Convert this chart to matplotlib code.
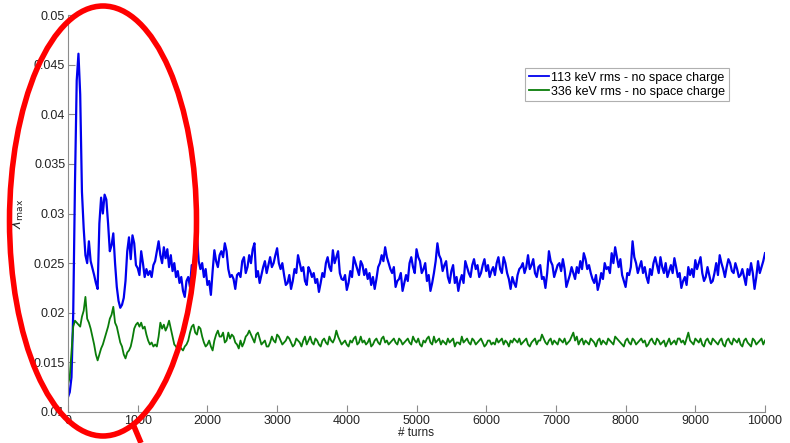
"""
lambda_max vs turns, two beam energies without space charge.
Red ellipse marks the initial transient (first ~2000 turns).
"""

import numpy as np
import matplotlib
matplotlib.use('Agg')
import matplotlib.pyplot as plt
from matplotlib.patches import Ellipse
from matplotlib.lines import Line2D

# ── data ─────────────────────────────────────────────────────────────────────

# first 2000 turns sampled every 25 turns
turns_early = np.arange(0, 2001, 25)
# after that: main samples every 50 turns, plus the in-between wiggles
turns_late = np.arange(2050, 10001, 50)
turns_mid  = np.arange(2025, 10000, 50)

blue_early = [
    0.0115, 0.0120, 0.0135, 0.0200, 0.0330, 0.0434, 0.0461, 0.0420, 0.0322, 0.0285,
    0.0258, 0.0250, 0.0272, 0.0252, 0.0245, 0.0238, 0.0230, 0.0224, 0.0290, 0.0316,
    0.0300, 0.0319, 0.0314, 0.0290, 0.0262, 0.0268, 0.0280, 0.0250, 0.0226, 0.0212,
    0.0205, 0.0208, 0.0215, 0.0232, 0.0262, 0.0276, 0.0254, 0.0278, 0.0270, 0.0248,
    0.0245, 0.0238, 0.0262, 0.0250, 0.0236, 0.0244, 0.0238, 0.0242, 0.0236, 0.0248,
    0.0252, 0.0262, 0.0272, 0.0258, 0.0250, 0.0266, 0.0255, 0.0264, 0.0246, 0.0258,
    0.0242, 0.0250, 0.0236, 0.0242, 0.0230, 0.0236, 0.0222, 0.0216, 0.0232, 0.0236,
    0.0226, 0.0248, 0.0240, 0.0262, 0.0278, 0.0252, 0.0244, 0.0250, 0.0236, 0.0244,
    0.0228,
]
blue_late = [
    0.0218, 0.0263, 0.0246, 0.0262, 0.0270, 0.0244, 0.0238, 0.0224, 0.0240, 0.0252,
    0.0240, 0.0258, 0.0264, 0.0236, 0.0230, 0.0246, 0.0240, 0.0256, 0.0250, 0.0265,
    0.0244, 0.0238, 0.0230, 0.0224, 0.0244, 0.0258, 0.0242, 0.0232, 0.0246, 0.0236,
    0.0230, 0.0221, 0.0240, 0.0250, 0.0246, 0.0263, 0.0256, 0.0240, 0.0233, 0.0223,
    0.0242, 0.0256, 0.0244, 0.0252, 0.0238, 0.0234, 0.0228, 0.0224, 0.0246, 0.0258,
    0.0266, 0.0250, 0.0240, 0.0226, 0.0234, 0.0222, 0.0238, 0.0250, 0.0246, 0.0264,
    0.0252, 0.0244, 0.0232, 0.0222, 0.0240, 0.0270, 0.0254, 0.0248, 0.0236, 0.0242,
    0.0230, 0.0222, 0.0238, 0.0252, 0.0240, 0.0248, 0.0244, 0.0236, 0.0248, 0.0242,
    0.0236, 0.0246, 0.0250, 0.0244, 0.0256, 0.0240, 0.0224, 0.0230, 0.0238, 0.0246,
    0.0240, 0.0258, 0.0248, 0.0240, 0.0246, 0.0234, 0.0225, 0.0262, 0.0248, 0.0242,
    0.0250, 0.0254, 0.0226, 0.0238, 0.0240, 0.0246, 0.0252, 0.0260, 0.0244, 0.0240,
    0.0230, 0.0223, 0.0240, 0.0250, 0.0246, 0.0260, 0.0266, 0.0246, 0.0238, 0.0226,
    0.0238, 0.0272, 0.0250, 0.0246, 0.0240, 0.0236, 0.0244, 0.0250, 0.0248, 0.0256,
    0.0240, 0.0236, 0.0248, 0.0255, 0.0236, 0.0225, 0.0236, 0.0246, 0.0244, 0.0253,
    0.0250, 0.0240, 0.0236, 0.0238, 0.0232, 0.0250, 0.0258, 0.0244, 0.0246, 0.0250,
    0.0240, 0.0244, 0.0238, 0.0236, 0.0244, 0.0250, 0.0224, 0.0252, 0.0246, 0.0260,
]
blue_mid = [
    0.0232, 0.0242, 0.0252, 0.0258, 0.0256, 0.0262, 0.0236, 0.0234, 0.0238, 0.0236,
    0.0256, 0.0246, 0.0250, 0.0270, 0.0242, 0.0238, 0.0252, 0.0248, 0.0246, 0.0258,
    0.0250, 0.0250, 0.0228, 0.0238, 0.0232, 0.0240, 0.0250, 0.0246, 0.0228, 0.0242,
    0.0240, 0.0234, 0.0230, 0.0236, 0.0256, 0.0242, 0.0250, 0.0262, 0.0234, 0.0238,
    0.0230, 0.0236, 0.0250, 0.0238, 0.0248, 0.0244, 0.0240, 0.0236, 0.0234, 0.0250,
    0.0252, 0.0256, 0.0244, 0.0246, 0.0232, 0.0240, 0.0230, 0.0232, 0.0256, 0.0240,
    0.0256, 0.0240, 0.0250, 0.0238, 0.0230, 0.0252, 0.0258, 0.0242, 0.0252, 0.0230,
    0.0248, 0.0236, 0.0232, 0.0230, 0.0246, 0.0236, 0.0254, 0.0248, 0.0240, 0.0254,
    0.0248, 0.0242, 0.0238, 0.0256, 0.0240, 0.0250, 0.0234, 0.0236, 0.0226, 0.0244,
    0.0250, 0.0246, 0.0244, 0.0254, 0.0236, 0.0248, 0.0236, 0.0240, 0.0252, 0.0236,
    0.0248, 0.0242, 0.0244, 0.0232, 0.0246, 0.0234, 0.0240, 0.0244, 0.0254, 0.0248,
    0.0234, 0.0238, 0.0230, 0.0234, 0.0244, 0.0240, 0.0250, 0.0256, 0.0254, 0.0232,
    0.0240, 0.0246, 0.0256, 0.0240, 0.0252, 0.0246, 0.0230, 0.0238, 0.0256, 0.0240,
    0.0246, 0.0250, 0.0242, 0.0240, 0.0246, 0.0240, 0.0232, 0.0228, 0.0238, 0.0236,
    0.0244, 0.0256, 0.0232, 0.0246, 0.0230, 0.0240, 0.0238, 0.0250, 0.0236, 0.0254,
    0.0242, 0.0250, 0.0236, 0.0244, 0.0228, 0.0238, 0.0240, 0.0236, 0.0240, 0.0252,
]

green_early = [
    0.0128, 0.0135, 0.0160, 0.0186, 0.0192, 0.0190, 0.0188, 0.0186, 0.0196, 0.0202,
    0.0216, 0.0194, 0.0190, 0.0184, 0.0176, 0.0168, 0.0158, 0.0152, 0.0158, 0.0164,
    0.0168, 0.0174, 0.0180, 0.0186, 0.0194, 0.0198, 0.0206, 0.0190, 0.0186, 0.0178,
    0.0170, 0.0166, 0.0158, 0.0154, 0.0160, 0.0162, 0.0166, 0.0174, 0.0184, 0.0188,
    0.0190, 0.0186, 0.0190, 0.0184, 0.0186, 0.0178, 0.0172, 0.0168, 0.0170, 0.0166,
    0.0168, 0.0166, 0.0176, 0.0190, 0.0184, 0.0188, 0.0182, 0.0186, 0.0192, 0.0184,
    0.0176, 0.0168, 0.0166, 0.0162, 0.0166, 0.0164, 0.0162, 0.0166, 0.0168, 0.0172,
    0.0180, 0.0186, 0.0188, 0.0180, 0.0178, 0.0186, 0.0184, 0.0176, 0.0170, 0.0166,
    0.0168,
]
green_late = [
    0.0166, 0.0172, 0.0182, 0.0176, 0.0170, 0.0180, 0.0178, 0.0170, 0.0164, 0.0166,
    0.0176, 0.0182, 0.0174, 0.0178, 0.0174, 0.0170, 0.0166, 0.0170, 0.0172, 0.0178,
    0.0172, 0.0170, 0.0176, 0.0170, 0.0168, 0.0172, 0.0166, 0.0176, 0.0172, 0.0170,
    0.0174, 0.0168, 0.0172, 0.0170, 0.0176, 0.0170, 0.0182, 0.0172, 0.0170, 0.0168,
    0.0172, 0.0174, 0.0168, 0.0176, 0.0172, 0.0170, 0.0166, 0.0172, 0.0170, 0.0174,
    0.0170, 0.0168, 0.0172, 0.0170, 0.0174, 0.0168, 0.0172, 0.0170, 0.0176, 0.0170,
    0.0168, 0.0172, 0.0174, 0.0170, 0.0176, 0.0172, 0.0168, 0.0170, 0.0174, 0.0172,
    0.0166, 0.0170, 0.0176, 0.0172, 0.0170, 0.0174, 0.0168, 0.0172, 0.0170, 0.0168,
    0.0172, 0.0170, 0.0174, 0.0172, 0.0168, 0.0170, 0.0172, 0.0174, 0.0170, 0.0168,
    0.0172, 0.0168, 0.0170, 0.0174, 0.0172, 0.0178, 0.0170, 0.0172, 0.0168, 0.0170,
    0.0174, 0.0170, 0.0168, 0.0172, 0.0180, 0.0176, 0.0172, 0.0168, 0.0170, 0.0174,
    0.0170, 0.0172, 0.0168, 0.0170, 0.0174, 0.0170, 0.0176, 0.0172, 0.0168, 0.0172,
    0.0170, 0.0174, 0.0168, 0.0172, 0.0170, 0.0166, 0.0172, 0.0170, 0.0174, 0.0168,
    0.0172, 0.0170, 0.0168, 0.0172, 0.0174, 0.0170, 0.0168, 0.0180, 0.0170, 0.0174,
    0.0170, 0.0168, 0.0172, 0.0170, 0.0174, 0.0170, 0.0172, 0.0168, 0.0172, 0.0170,
    0.0174, 0.0170, 0.0168, 0.0172, 0.0170, 0.0166, 0.0172, 0.0170, 0.0174, 0.0172,
]
green_mid = [
    0.0172, 0.0162, 0.0178, 0.0176, 0.0180, 0.0172, 0.0174, 0.0176, 0.0168, 0.0172,
    0.0170, 0.0178, 0.0178, 0.0170, 0.0180, 0.0168, 0.0172, 0.0166, 0.0176, 0.0170,
    0.0176, 0.0168, 0.0172, 0.0174, 0.0166, 0.0174, 0.0170, 0.0172, 0.0168, 0.0176,
    0.0168, 0.0172, 0.0166, 0.0174, 0.0168, 0.0172, 0.0174, 0.0176, 0.0168, 0.0172,
    0.0166, 0.0170, 0.0176, 0.0170, 0.0170, 0.0168, 0.0174, 0.0168, 0.0174, 0.0168,
    0.0176, 0.0172, 0.0170, 0.0174, 0.0168, 0.0172, 0.0170, 0.0174, 0.0168, 0.0172,
    0.0174, 0.0166, 0.0170, 0.0176, 0.0168, 0.0170, 0.0174, 0.0172, 0.0168, 0.0170,
    0.0174, 0.0170, 0.0168, 0.0170, 0.0174, 0.0168, 0.0172, 0.0170, 0.0174, 0.0166,
    0.0172, 0.0168, 0.0168, 0.0170, 0.0174, 0.0172, 0.0166, 0.0170, 0.0172, 0.0174,
    0.0170, 0.0174, 0.0166, 0.0172, 0.0168, 0.0172, 0.0174, 0.0168, 0.0174, 0.0172,
    0.0168, 0.0172, 0.0174, 0.0170, 0.0176, 0.0172, 0.0168, 0.0174, 0.0172, 0.0168,
    0.0172, 0.0166, 0.0174, 0.0172, 0.0168, 0.0172, 0.0168, 0.0174, 0.0170, 0.0166,
    0.0174, 0.0168, 0.0172, 0.0170, 0.0174, 0.0172, 0.0168, 0.0174, 0.0168, 0.0172,
    0.0170, 0.0166, 0.0174, 0.0170, 0.0168, 0.0174, 0.0172, 0.0174, 0.0172, 0.0168,
    0.0172, 0.0174, 0.0166, 0.0174, 0.0168, 0.0172, 0.0168, 0.0174, 0.0166, 0.0174,
    0.0168, 0.0172, 0.0174, 0.0166, 0.0174, 0.0168, 0.0174, 0.0168, 0.0172, 0.0168,
]

labels = ['113 keV rms - no space charge', '336 keV rms - no space charge']
x_ticks = [0, 1000, 2000, 3000, 4000, 5000, 6000, 7000, 8000, 9000, 10000]
y_ticks = [0.01, 0.015, 0.02, 0.025, 0.03, 0.035, 0.04, 0.045, 0.05]

C_BLUE  = '#0000ee'
C_GREEN = '#0a7d0a'
C_AXIS  = '#8c8c8c'
C_TEXT  = '#222222'


def join_series(early, late, mid):
    t = np.concatenate([turns_early, turns_late, turns_mid])
    v = np.concatenate([early, late, mid])
    order = np.argsort(t, kind='stable')
    return t[order], v[order]


# ── figure ───────────────────────────────────────────────────────────────────

plt.rcParams['font.family'] = ['Liberation Sans', 'DejaVu Sans']

fig = plt.figure(figsize=(7.9, 4.43), dpi=100, facecolor='white')
ax = fig.add_axes([68 / 790, 1 - 412 / 443, (765 - 68) / 790, (412 - 15) / 443])

t_b, v_b = join_series(blue_early, blue_late, blue_mid)
t_g, v_g = join_series(green_early, green_late, green_mid)

ax.plot(t_b, v_b, color=C_BLUE, linewidth=1.6, label=labels[0])
ax.plot(t_g, v_g, color=C_GREEN, linewidth=1.3, label=labels[1])

ax.set_xlim(0, 10000)
ax.set_ylim(0.01, 0.05)
ax.set_xticks(x_ticks)
ax.set_yticks(y_ticks)
ax.set_yticklabels([f'{v:g}' for v in y_ticks])

for side in ('top', 'right'):
    ax.spines[side].set_visible(False)
for side in ('left', 'bottom'):
    ax.spines[side].set_color(C_AXIS)
    ax.spines[side].set_linewidth(0.8)
ax.tick_params(direction='in', length=5, width=0.8, color=C_AXIS,
               labelsize=9, labelcolor=C_TEXT, pad=2)

ax.set_xlabel('# turns', fontsize=8.5, color=C_TEXT, labelpad=0)
ax.set_ylabel(r'$\lambda_{\mathrm{max}}$', fontsize=9.5, color=C_TEXT, labelpad=6)

handles, _ = ax.get_legend_handles_labels()
leg = fig.legend(handles, labels, loc='upper left',
                 bbox_to_anchor=(525 / 790, 1 - 68 / 443),
                 fontsize=9, handlelength=1.6, handletextpad=0.2,
                 borderpad=0.3, labelspacing=0.15, fancybox=False,
                 framealpha=1, edgecolor='#b0b0b0', borderaxespad=0)
leg.get_frame().set_linewidth(0.8)
for line in leg.get_lines():
    line.set_linewidth(1.3)

# ── red annotation ───────────────────────────────────────────────────────────

ell = Ellipse((103 / 790, 1 - 221 / 443), 187 / 790, 430 / 443,
              transform=fig.transFigure, fill=False, edgecolor='#ff0000',
              linewidth=4, clip_on=False, zorder=10)
fig.patches.append(ell)
fig.lines.append(Line2D([133 / 790, 141 / 790], [1 - 424 / 443, 0],
                        transform=fig.transFigure, color='#ff0000',
                        linewidth=4, solid_capstyle='butt', zorder=10))

fig.savefig('out.png', dpi=100, facecolor='white')
